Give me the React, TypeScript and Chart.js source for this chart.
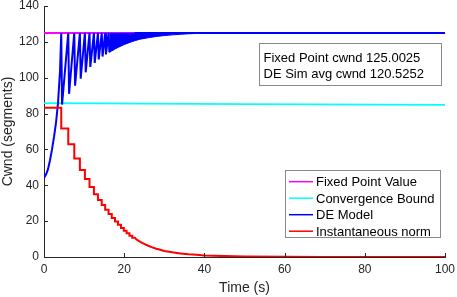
import React, { useEffect, useRef } from 'react';
import { Chart, registerables } from 'chart.js';
Chart.register(...registerables);

const FONT = "'Liberation Sans', Arial, Helvetica, sans-serif";
const TEXT = '#262626';

// ---- data ----
const xTicks = [0, 20, 40, 60, 80, 100];
const yTicks = [0, 20, 40, 60, 80, 100, 120, 140];

const fixedPointT = [0, 100];
const fixedPointV = [125, 125];

const boundT = [0, 50, 100];
const boundV = [85.8, 85.3, 84.8];

// DE model: initial climb, then sawtooth (peaks at 125, troughs below)
const deInitT = [0, 0.5, 1, 1.5, 2, 2.5, 3, 3.5, 4];
const deInitV = [44, 46, 49, 54, 60, 67, 75, 86, 104];
const peakTimes = [4.3, 6.05, 7.55, 8.95, 10.2, 11.35, 12.45, 13.45, 14.4, 15.25, 16.1, 16.9, 17.7, 18.45, 19.2, 19.9, 20.6, 21.3, 22.0];
const troughTimes = [4.5, 6.25, 7.75, 9.15, 10.4, 11.55, 12.65, 13.65, 14.6, 15.45, 16.3, 17.1, 17.9, 18.65, 19.4, 20.1, 20.8, 21.5, 22.2];
const troughValues = [85, 91, 95.5, 99.5, 103, 106, 108.2, 110.2, 111.8, 113, 114.2, 115.3, 116.3, 117.2, 118, 118.7, 119.3, 119.9, 120.4];
const peakValue = 125;
const deTailT = [22.7, 100];
const deTailV = [125, 125];

// lower edge of the dense oscillation band (teeth merge into a solid band)
const envT = [16.3, 18, 20, 22.2, 24, 26, 28, 30, 32, 34, 36, 38, 40];
const envV = [114.2, 116.4, 118.5, 120.4, 121.5, 122.3, 123, 123.5, 123.9, 124.2, 124.5, 124.7, 125];

// Instantaneous norm: staircase stepping at the peak times, then smooth decay
const normStepValues = [83.2, 71.7, 62.9, 55, 48.5, 43.5, 39, 35, 31.8, 29, 26.3, 24, 21.8, 19.8, 18, 16.2, 14.6, 13.2, 11.9, 10.8];
const normTailT = [22.65, 23, 24, 25, 26, 27, 28, 29, 30, 32, 34, 36, 38, 40, 45, 50, 60, 70, 80, 90, 100];
const normTailV = [10.8, 9.9, 8.5, 7.3, 6.3, 5.4, 4.6, 4.0, 3.4, 2.6, 2.0, 1.5, 1.2, 0.9, 0.5, 0.3, 0.1, 0.05, 0.02, 0.01, 0];

const boxLines = ['Fixed Point cwnd 125.0025', 'DE Sim avg cwnd 120.5252'];
const legendLabels = ['Fixed Point Value', 'Convergence Bound', 'DE Model', 'Instantaneous norm'];

const zip = (t: number[], v: number[]) => t.map((x, i) => ({ x, y: v[i] }));

function buildDE() {
  const pts = zip(deInitT, deInitV);
  peakTimes.forEach((p, i) => {
    pts.push({ x: p, y: peakValue });
    pts.push({ x: troughTimes[i], y: troughValues[i] });
  });
  return pts.concat(zip(deTailT, deTailV));
}

function buildNorm() {
  const pts: { x: number; y: number }[] = [{ x: 0, y: normStepValues[0] }];
  peakTimes.forEach((p, i) => {
    pts.push({ x: p, y: normStepValues[i] });
    pts.push({ x: p, y: normStepValues[i + 1] });
  });
  return pts.concat(zip(normTailT, normTailV));
}

const overlay = {
  id: 'overlay',
  afterDraw(chart: any) {
    const ctx = chart.ctx as CanvasRenderingContext2D;
    const { left, right, top, bottom } = chart.chartArea;
    const xs = chart.scales.x;
    const ys = chart.scales.y;
    ctx.save();
    // inward tick marks
    ctx.strokeStyle = TEXT;
    ctx.lineWidth = 1;
    ctx.beginPath();
    xTicks.forEach((v) => {
      const px = Math.round(xs.getPixelForValue(v)) + 0.5;
      ctx.moveTo(px, bottom);
      ctx.lineTo(px, bottom - 4);
    });
    yTicks.forEach((v) => {
      const py = Math.round(ys.getPixelForValue(v)) + 0.5;
      ctx.moveTo(left, py);
      ctx.lineTo(left + 4, py);
    });
    ctx.stroke();

    // axis titles
    ctx.fillStyle = TEXT;
    ctx.font = `14px ${FONT}`;
    ctx.textAlign = 'center';
    ctx.textBaseline = 'alphabetic';
    ctx.fillText('Time (s)', (left + right) / 2, 292);
    ctx.save();
    ctx.translate(12, (top + bottom) / 2);
    ctx.rotate(-Math.PI / 2);
    ctx.fillText('Cwnd (segments)', 0, 0);
    ctx.restore();

    // text box
    ctx.fillStyle = '#ffffff';
    ctx.fillRect(259.5, 43.5, 182, 42);
    ctx.strokeStyle = '#8a8a8a';
    ctx.strokeRect(259.5, 43.5, 182, 42);
    ctx.fillStyle = '#000000';
    ctx.font = `13px ${FONT}`;
    ctx.textAlign = 'left';
    boxLines.forEach((s, i) => ctx.fillText(s, 263.5, 61.5 + i * 16.6));

    // legend
    ctx.fillStyle = '#ffffff';
    ctx.fillRect(285.5, 170.5, 155, 67);
    ctx.strokeStyle = '#8a8a8a';
    ctx.strokeRect(285.5, 170.5, 155, 67);
    const ds = chart.data.datasets.filter((d: any) => d.label);
    ds.forEach((d: any, i: number) => {
      const cy = 181.7 + i * 16.5;
      ctx.strokeStyle = d.borderColor;
      ctx.lineWidth = 1.5;
      ctx.beginPath();
      ctx.moveTo(289, cy);
      ctx.lineTo(313, cy);
      ctx.stroke();
      ctx.fillStyle = '#000000';
      ctx.fillText(d.label, 316, cy + 4.6);
    });
    ctx.restore();
  },
};

export default function App() {
  const ref = useRef<HTMLCanvasElement | null>(null);
  useEffect(() => {
    if (!ref.current) return;
    const chart = new Chart(ref.current, {
      type: 'line',
      data: {
        datasets: [
          { label: legendLabels[0], data: zip(fixedPointT, fixedPointV), borderColor: '#ff00ff', borderWidth: 2, order: 5 },
          { label: legendLabels[1], data: zip(boundT, boundV), borderColor: '#00ffff', borderWidth: 1.8, order: 4 },
          { label: legendLabels[2], data: buildDE(), borderColor: '#0000ff', borderWidth: 2, borderJoinStyle: 'bevel', order: 2 },
          { label: legendLabels[3], data: buildNorm(), borderColor: '#ff0000', borderWidth: 2, order: 1 },
          { label: '', data: zip(envT, envV), borderColor: '#0000ff', backgroundColor: '#0000ff', borderWidth: 1, fill: { value: 125 }, order: 3 },
        ] as any,
      },
      options: {
        responsive: false,
        animation: false,
        events: [],
        elements: { point: { radius: 0 }, line: { tension: 0 } },
        layout: { padding: { top: 6, right: 12, left: 0, bottom: 0 } },
        plugins: { legend: { display: false }, tooltip: { enabled: false } },
        scales: {
          x: {
            type: 'linear',
            min: 0,
            max: 100,
            afterFit: (s: any) => { s.height = 40; s.paddingLeft = 0; s.paddingRight = 0; },
            afterBuildTicks: (s: any) => { s.ticks = xTicks.map((v) => ({ value: v })); },
            ticks: { font: { family: FONT, size: 12, lineHeight: 1 }, color: TEXT, padding: 7, maxRotation: 0 },
            grid: { display: true, drawOnChartArea: false, drawTicks: false },
            border: { display: true, color: TEXT, width: 1 },
          },
          y: {
            type: 'linear',
            min: 0,
            max: 140,
            afterFit: (s: any) => { s.width = 44; s.paddingTop = 0; s.paddingBottom = 0; },
            afterBuildTicks: (s: any) => { s.ticks = yTicks.map((v) => ({ value: v })); },
            ticks: { font: { family: FONT, size: 12, lineHeight: 1 }, color: TEXT, padding: 5 },
            grid: { display: true, drawOnChartArea: false, drawTicks: false },
            border: { display: true, color: TEXT, width: 1 },
          },
        },
      } as any,
      plugins: [overlay],
    });
    return () => chart.destroy();
  }, []);
  return (
    <div style={{ position: 'absolute', left: 0, top: 0, width: 457, height: 297, background: '#fff' }}>
      <canvas ref={ref} width={457} height={297} />
    </div>
  );
}
